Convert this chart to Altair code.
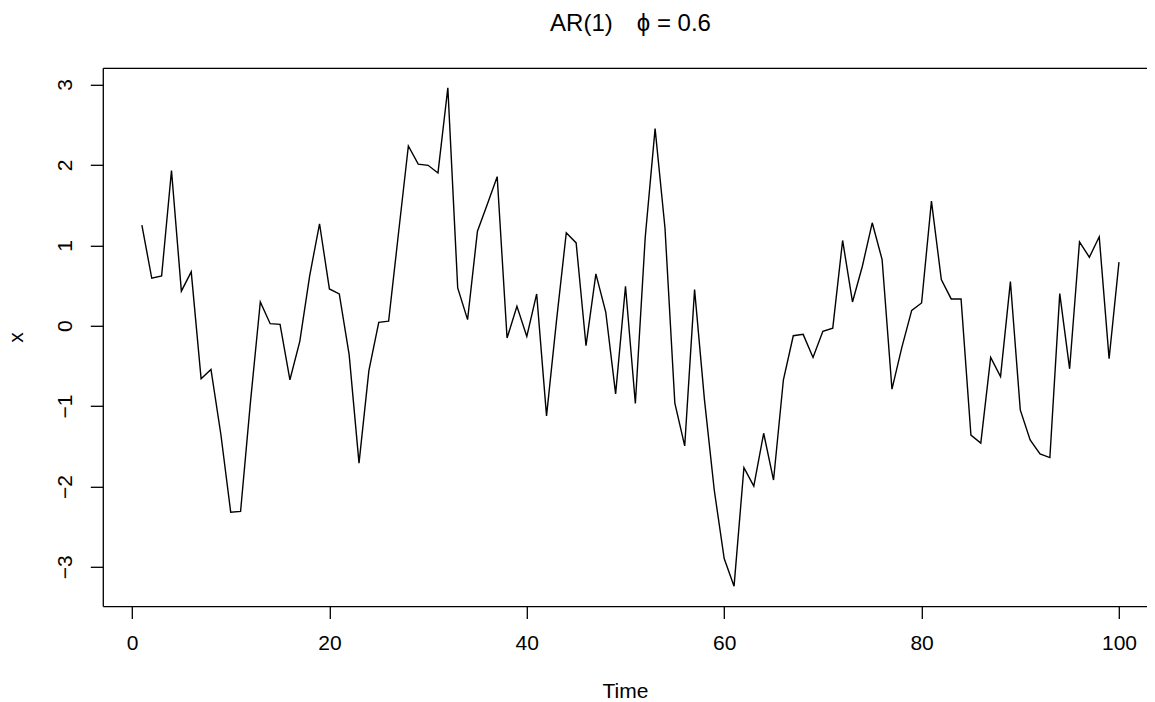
import altair as alt
import pandas as pd

# ---- data ----
time = list(range(1, 101))
x_values = [
    1.25, 0.59, 0.62, 1.93, 0.43, 0.67, -0.66, -0.545, -1.35, -2.32,
    -2.31, -0.95, 0.295, 0.025, 0.017, -0.673, -0.195, 0.62, 1.268, 0.457,
    0.395, -0.36, -1.71, -0.56, 0.042, 0.056, 1.15, 2.236, 2.01, 1.995,
    1.90, 2.96, 0.47, 0.075, 1.176, 1.51, 1.854, -0.154, 0.241, -0.133,
    0.395, -1.122, 0.05, 1.156, 1.03, -0.249, 0.644, 0.17, -0.848, 0.49,
    -0.968, 1.1, 2.452, 1.218, -0.964, -1.496, 0.449, -0.92, -2.05, -2.897,
    -3.24, -1.766, -1.995, -1.338, -1.92, -0.673, -0.125, -0.108, -0.395, -0.07,
    -0.03, 1.06, 0.295, 0.74, 1.28, 0.823, -0.79, -0.27, 0.19, 0.283,
    1.55, 0.574, 0.333, 0.333, -1.36, -1.46, -0.395, -0.632, 0.549, -1.047,
    -1.42, -1.596, -1.64, 0.399, -0.536, 1.043, 0.852, 1.106, -0.411, 0.79,
]
x_ticks = [0, 20, 40, 60, 80, 100]
y_ticks = [-3, -2, -1, 0, 1, 2, 3]
title_text = "AR(1)\u2002\u2002\u03d5 = 0.6"
x_title = "Time"
y_title = "x"

df = pd.DataFrame({"Time": time, "x": x_values})
title_df = pd.DataFrame({"label": [title_text]})

# R-style 4% axis expansion (right end cut at the window edge)
yr = max(x_values) - min(x_values)
y_dom = [min(x_values) - 0.04 * yr, max(x_values) + 0.04 * yr]
x_dom = [1 - 0.04 * 99, 102.84]

W = 1044.2
H = 538.3
FONT = "Liberation Sans"

common = dict(
    labelFont=FONT, labelFontSize=21, labelColor="black",
    titleFont=FONT, titleFontSize=21, titleFontWeight="normal", titleColor="black",
    tickColor="black", tickWidth=1.3, tickSize=12.5,
    domainColor="black", domainWidth=1.3, grid=False,
    labelFlush=False, labelOverlap=False,
)

xscale = alt.Scale(domain=x_dom, nice=False, zero=False)
yscale = alt.Scale(domain=y_dom, nice=False, zero=False)

x_axis = alt.Axis(
    values=x_ticks, format="d", orient="bottom",
    labelBaseline="alphabetic", labelPadding=30.7,
    title=x_title, titleBaseline="alphabetic", titleAlign="center",
    titleX=W / 2, titleY=90.9, **common,
)
top_axis = alt.Axis(
    orient="top", labels=False, ticks=False, domain=True, grid=False,
    title=None, domainColor="black", domainWidth=1.3,
    minExtent=0, maxExtent=0, offset=0,
)
y_axis = alt.Axis(
    values=y_ticks, format="d",
    labelAngle=270, labelAlign="center", labelBaseline="alphabetic", labelPadding=18.8,
    title=y_title, titleAngle=270, titleAlign="center", titleBaseline="alphabetic",
    titleX=-79.9, titleY=H / 2, **common,
)

base = alt.Chart(df)
line = base.mark_line(color="black", strokeWidth=1.4).encode(
    x=alt.X("Time:Q", scale=xscale, axis=x_axis),
    y=alt.Y("x:Q", scale=yscale, axis=y_axis),
)
frame_top = base.mark_line(strokeOpacity=0).encode(
    x=alt.X("Time:Q", scale=xscale, axis=top_axis),
    y=alt.Y("x:Q", scale=yscale, axis=y_axis),
)
main_title = alt.Chart(title_df).mark_text(
    font=FONT, fontSize=24, color="black", align="center", baseline="alphabetic",
).encode(
    text="label:N",
    x=alt.value(W / 2 + 5.6),
    y=alt.value(-36.8),
)

chart = (
    alt.layer(line, frame_top, main_title)
    .resolve_axis(x="independent")
    .properties(
        width=W,
        height=H,
        autosize=alt.AutoSizeParams(type="none"),
        padding={"left": 94.8, "top": 59.8, "right": 0, "bottom": 95.9},
    )
    .configure_view(stroke=None)
    .configure(background="white")
)

chart.save("out.html", embed_options={"renderer": "svg", "actions": False})
